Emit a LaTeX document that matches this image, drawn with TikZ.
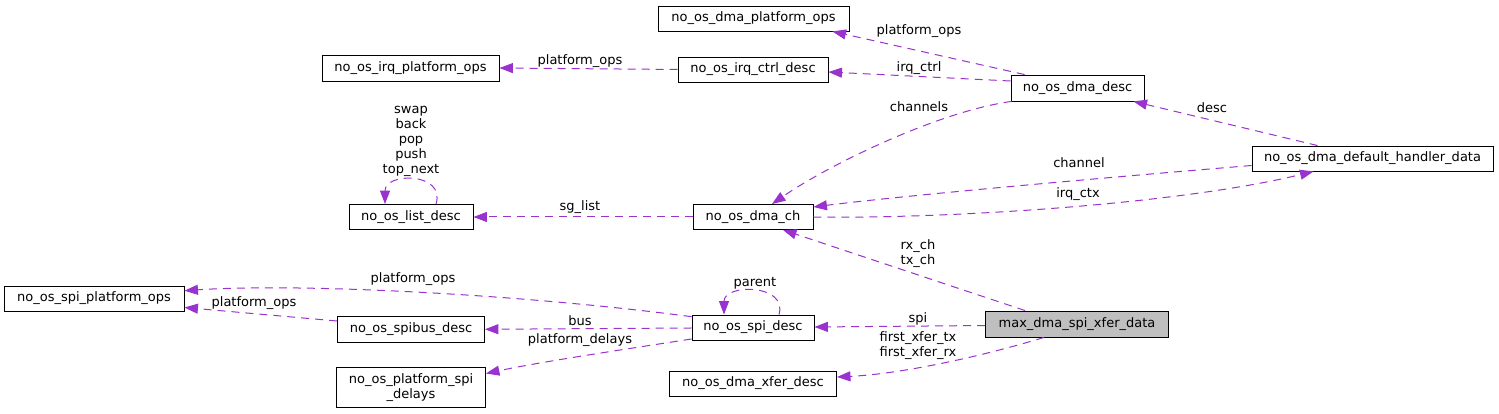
\documentclass[tikz,border=0pt]{standalone}
\usepackage{fontspec}
\setmainfont{DejaVu Sans}
\usetikzlibrary{arrows.meta}
\definecolor{edgec}{HTML}{9A32CD}
\definecolor{rootfill}{HTML}{BFBFBF}
\begin{document}
\begin{tikzpicture}[x=1pt,y=1pt,
  box/.style={draw=black, line width=0.9pt, fill=white, inner sep=0pt, minimum height=25pt, font=\fontsize{13}{15}\selectfont, align=center},
  lbl/.style={inner sep=0pt, font=\fontsize{13}{15}\selectfont, align=center},
  rel/.style={draw=edgec, line width=1pt, dash pattern=on 8pt off 6pt, -{Triangle[length=13.5pt,width=10pt]}},
]
\fill[white] (0,0) rectangle (1499,414);
\useasboundingbox (0,0) rectangle (1499,414);

% nodes
\node[box, minimum width=191pt] (dmaplat) at (753.5,395.5) {no\_os\_dma\_platform\_ops};
\node[box, minimum width=177pt, minimum height=26pt] (irqplat) at (410.5,346) {no\_os\_irq\_platform\_ops};
\node[box, minimum width=150pt] (irqctrl) at (753,344.5) {no\_os\_irq\_ctrl\_desc};
\node[box, minimum width=133pt, minimum height=26pt] (dmadesc) at (1077.5,326) {no\_os\_dma\_desc};
\node[box, minimum width=241pt] (handler) at (1372.5,255.5) {no\_os\_dma\_default\_handler\_data};
\node[box, minimum width=120pt] (dmach) at (753,197) {no\_os\_dma\_ch};
\node[box, minimum width=124pt] (listdesc) at (411,197) {no\_os\_list\_desc};
\node[box, minimum width=180pt] (spiplat) at (94,115.5) {no\_os\_spi\_platform\_ops};
\node[box, minimum width=147pt, minimum height=26pt] (spibus) at (411,85) {no\_os\_spibus\_desc};
\node[box, minimum width=149pt, minimum height=40pt] (delays) at (411,26.5) {no\_os\_platform\_spi\\\_delays};
\node[box, minimum width=122pt] (spidesc) at (753,86.5) {no\_os\_spi\_desc};
\node[box, minimum width=183pt, minimum height=26pt, fill=rootfill] (maxdma) at (1077,90) {max\_dma\_spi\_xfer\_data};
\node[box, minimum width=167pt] (dmaxfer) at (753,30.5) {no\_os\_dma\_xfer\_desc};

% edges
\draw[rel] ([xshift=14pt]dmadesc.north west) -- ([xshift=-17pt]dmaplat.south east);
\draw[rel] ([yshift=7pt]dmadesc.west) -- ([yshift=-2.5pt]irqctrl.east);
\draw[rel] (irqctrl.west) -- (irqplat.east);
\draw[rel] ([xshift=1pt]dmadesc.south west) .. controls (940,303) and (830,250) .. ([xshift=19pt]dmach.north);
\draw[rel] ([xshift=-55pt]handler.north) -- ([xshift=56pt]dmadesc.south);
\draw[rel] ([yshift=-7pt]handler.west) .. controls (1100,236) and (900,218) .. ([yshift=10pt]dmach.east);
\draw[rel] (dmach.east) .. controls (950,195) and (1180,210) .. ([xshift=-59pt]handler.south);
\draw[rel] (dmach.west) -- (listdesc.east);
\draw[rel] ([xshift=25pt]listdesc.north) .. controls +(10,32) and +(0,32) .. ([xshift=-26pt]listdesc.north);
\draw[rel] ([xshift=-52pt]maxdma.north) -- ([xshift=30pt]dmach.south);
\draw[rel] ([yshift=-1.5pt]maxdma.west) -- ([yshift=0.5pt]spidesc.east);
\draw[rel] ([xshift=-33pt]maxdma.south) .. controls (980,57) and (900,40) .. ([yshift=6.5pt]dmaxfer.east);
\draw[rel] ([xshift=26pt]spidesc.north) .. controls +(9,31) and +(0,31) .. ([xshift=-29pt]spidesc.north);
\draw[rel] ([yshift=10.8pt]spidesc.west) .. controls (520,120) and (300,131) .. ([yshift=7.8pt]spiplat.east);
\draw[rel] ([yshift=-0.5pt]spidesc.west) -- ([yshift=-0.3pt]spibus.east);
\draw[rel] ([yshift=8pt]spibus.west) -- ([yshift=-9pt]spiplat.east);
\draw[rel] ([yshift=-11.5pt]spidesc.west) .. controls (620,64) and (540,52) .. ([yshift=14pt]delays.east);

% labels
\node[lbl] (l1) at (919,383) {platform\_ops};
\node[lbl] (l2) at (919,346) {irq\_ctrl};
\node[lbl] (l3) at (580,353) {platform\_ops};
\node[lbl] (l4) at (919,307) {channels};
\node[lbl] (l5) at (1212,306) {desc};
\node[lbl] (l6) at (1079,251) {channel};
\node[lbl] (l7) at (1078,220) {irq\_ctx};
\node[lbl] (l8) at (580,207) {sg\_list};
\node[lbl] (l9) at (411,272.8) {swap\\back\\pop\\push\\top\_next};
\node[lbl] (l10) at (918,160.3) {rx\_ch\\tx\_ch};
\node[lbl] (l11) at (918,95) {spi};
\node[lbl] (l12) at (918,68.6) {first\_xfer\_tx\\first\_xfer\_rx};
\node[lbl] (l13) at (755,131) {parent};
\node[lbl] (l14) at (413,135) {platform\_ops};
\node[lbl] (l15) at (580,93.3) {bus};
\node[lbl] (l16) at (254,111.3) {platform\_ops};
\node[lbl] (l17) at (580,74) {platform\_delays};
\end{tikzpicture}
\end{document}
